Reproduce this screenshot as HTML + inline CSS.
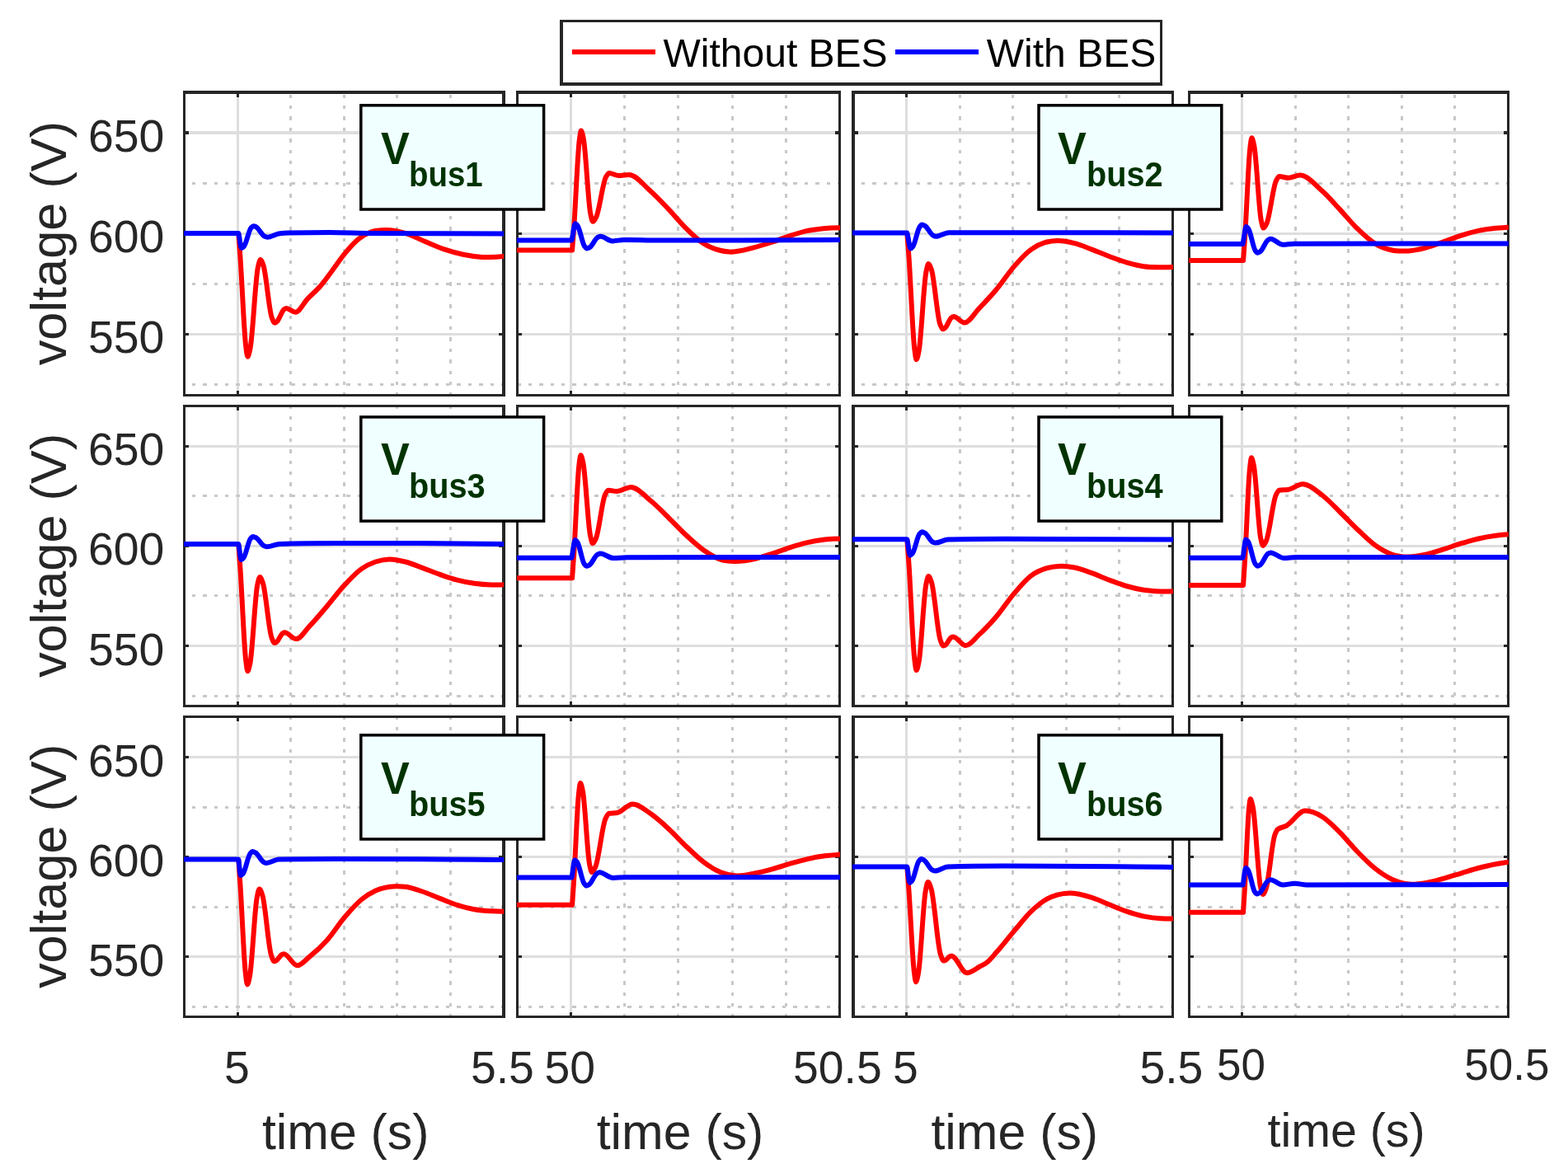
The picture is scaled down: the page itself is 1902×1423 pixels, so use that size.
<!DOCTYPE html>
<html lang="en"><head><meta charset="utf-8"><title>Bus voltages with and without BES</title>
<style>html,body{margin:0;padding:0;background:#fff;}svg{display:block;}text{font-family:"Liberation Sans", sans-serif;fill:#262626;}.tk{font-size:55px;}.lb{font-size:61.3px;}.lg{font-size:48px;fill:#000;}.an{font-weight:bold;fill:#003300;}</style></head><body>
<svg width="1902" height="1423" viewBox="0 0 1902 1423">
<rect width="1902" height="1423" fill="#fff"/>
<defs>
<clipPath id="c00"><rect x="223" y="111" width="388" height="369"/></clipPath>
<clipPath id="c01"><rect x="627" y="111" width="392" height="369"/></clipPath>
<clipPath id="c02"><rect x="1034" y="111" width="389" height="369"/></clipPath>
<clipPath id="c03"><rect x="1442" y="111" width="388" height="369"/></clipPath>
<clipPath id="c10"><rect x="223" y="492" width="388" height="365"/></clipPath>
<clipPath id="c11"><rect x="627" y="492" width="392" height="365"/></clipPath>
<clipPath id="c12"><rect x="1034" y="492" width="389" height="365"/></clipPath>
<clipPath id="c13"><rect x="1442" y="492" width="388" height="365"/></clipPath>
<clipPath id="c20"><rect x="223" y="869" width="388" height="365"/></clipPath>
<clipPath id="c21"><rect x="627" y="869" width="392" height="365"/></clipPath>
<clipPath id="c22"><rect x="1034" y="869" width="389" height="365"/></clipPath>
<clipPath id="c23"><rect x="1442" y="869" width="388" height="365"/></clipPath>
</defs>
<g shape-rendering="crispEdges" fill="none">
<path d="M225 161H609" stroke="#dedede" stroke-width="4"/>
<path d="M225 283.5H609" stroke="#dedede" stroke-width="3"/>
<path d="M225 405.5H609" stroke="#dedede" stroke-width="3"/>
<path d="M288.5 114V478" stroke="#dedede" stroke-width="3"/>
<path d="M612.3 222.5H225M612.3 344.5H225M612.3 466.5H225" stroke="#c8c8c8" stroke-width="3" stroke-dasharray="4.4 9"/>
<path d="M352.5 480.7V114M417.5 480.7V114M481.5 480.7V114M546.5 480.7V114" stroke="#c8c8c8" stroke-width="3" stroke-dasharray="4.4 9"/>
<path d="M222 110H613V481H222ZM225 114V478H609V114Z" fill="#262626" fill-rule="evenodd"/>
<path d="M225 161h4M609 161h-4" stroke="#262626" stroke-width="4"/>
<path d="M225 283.5h4M609 283.5h-4" stroke="#262626" stroke-width="3"/>
<path d="M225 405.5h4M609 405.5h-4" stroke="#262626" stroke-width="3"/>
<path d="M288.5 114v4M288.5 478v-4" stroke="#262626" stroke-width="3"/>
</g><g>
<g clip-path="url(#c00)" fill="none" stroke-width="6" stroke-linejoin="round">
<path d="M289.3 283C290 292.5 290.8 302.2 291.5 312.9C293.7 345 296 402.6 298.2 420C298.9 425.8 299.7 432.7 300.4 432.7C301.4 432.7 302.5 427.4 303.5 422.7C306.6 408.6 309.7 339 312.8 324.9C313.8 320.2 314.9 314.9 315.9 314.9C317 314.9 318.2 318.4 319.3 321.4C322.8 330.6 326.2 376 329.7 385.2C330.8 388.2 332 391.7 333.1 391.7C334 391.7 335 390.9 335.9 390.2C338.7 388.1 341.6 377.6 344.4 375.5C345.3 374.8 346.3 374 347.2 374C350.9 374 354.7 378.7 358.4 378.7C363.3 378.7 368.3 367.6 373.2 362.4C378.4 357 383.5 353 388.7 347C393.4 341.6 398 334.9 402.7 328.7C407.6 322.2 412.5 314.7 417.4 308.7C423.2 301.6 428.9 294.9 434.7 290.2C439.7 286.2 444.7 283.4 449.7 281.5C455.9 279.2 462 279 468.2 279C476.3 279 484.4 280.8 492.5 283.2C500.2 285.5 508 289.8 515.7 293C523.4 296.2 531.1 299.7 538.8 302.3C546.5 304.9 554.2 307.1 561.9 308.7C569.6 310.3 577.4 311.5 585.1 311.9C587 312 589 312.1 590.9 312.1C597.8 312.2 604.6 311.8 611.5 311" stroke="#ff0000"/>
<path d="M222 283L289.3 283C289.6 284.1 289.8 285.3 290.1 286.6C290.8 290.5 291.6 297.4 292.3 299.5C292.6 300.2 292.8 301 293.1 301C294.1 301 295 299.8 296 298.7C298.8 295.5 301.7 279.7 304.5 276.5C305.5 275.4 306.4 274.2 307.4 274.2C308.5 274.2 309.6 274.8 310.7 275.3C314 277 317.4 284.9 320.7 286.6C321.8 287.1 322.9 287.7 324 287.7C329.2 287.7 334.3 283.7 339.5 283.2C343 282.9 346.5 282.7 350 282.6C366.7 282.2 383.3 282 400 282C416.7 282 433.3 282.9 450 283C503.8 283.3 557.7 283.4 611.5 283.4" stroke="#0000ff"/>
</g>
</g>
<g shape-rendering="crispEdges" fill="none">
<path d="M629 161H1017" stroke="#dedede" stroke-width="4"/>
<path d="M629 283.5H1017" stroke="#dedede" stroke-width="3"/>
<path d="M629 405.5H1017" stroke="#dedede" stroke-width="3"/>
<path d="M692.5 114V478" stroke="#dedede" stroke-width="3"/>
<path d="M1020.3 222.5H629M1020.3 344.5H629M1020.3 466.5H629" stroke="#c8c8c8" stroke-width="3" stroke-dasharray="4.4 9"/>
<path d="M757.5 480.7V114M822.5 480.7V114M888.5 480.7V114M953.5 480.7V114" stroke="#c8c8c8" stroke-width="3" stroke-dasharray="4.4 9"/>
<path d="M626 110H1020V481H626ZM629 114V478H1017V114Z" fill="#262626" fill-rule="evenodd"/>
<path d="M629 161h4M1017 161h-4" stroke="#262626" stroke-width="4"/>
<path d="M629 283.5h4M1017 283.5h-4" stroke="#262626" stroke-width="3"/>
<path d="M629 405.5h4M1017 405.5h-4" stroke="#262626" stroke-width="3"/>
<path d="M692.5 114v4M692.5 478v-4" stroke="#262626" stroke-width="3"/>
</g><g>
<g clip-path="url(#c01)" fill="none" stroke-width="6" stroke-linejoin="round">
<path d="M626 303.5L694.1 303.5C694.8 294.3 695.5 284.8 696.3 274.5C698.4 243.4 700.6 187.6 702.7 170.7C703.5 165.1 704.2 158.4 704.9 158.4C705.8 158.4 706.8 163.4 707.7 167.8C710.6 181 713.4 246.2 716.3 259.4C717.2 263.8 718.2 268.8 719.1 268.8C720.4 268.8 721.7 266.1 723 263.8C727 256.8 730.9 221.9 734.9 214.9C736.2 212.6 737.5 209.9 738.8 209.9C742.7 209.9 746.5 213.1 750.4 213.1C754.6 213.1 758.8 212 763 212C771.4 212 779.8 223.6 788.2 231C795.2 237.2 802.3 244.6 809.3 252C816.3 259.3 823.3 268.1 830.3 275.1C837.3 282.1 844.3 289.3 851.3 294C858.3 298.8 865.4 301.6 872.4 303.5C876.6 304.6 880.8 305.3 885 305.6C894.8 306.2 904.6 302.9 914.4 300.4C921.4 298.6 928.5 296.3 935.5 294C942.5 291.7 949.5 289 956.5 286.7C963.5 284.4 970.5 282 977.5 280.4C984.5 278.8 991.6 277.9 998.6 277.2C1005.4 276.5 1012.2 276.2 1019 276.2" stroke="#ff0000"/>
<path d="M626 291.5L693.5 291.5C693.8 290.2 694.1 288.9 694.4 287.5C695.2 283.1 696.1 275.4 696.9 273C697.2 272.2 697.5 271.3 697.8 271.3C698.7 271.3 699.7 272.7 700.6 273.9C703.4 277.5 706.3 295.2 709.1 298.8C710 300 711 301.4 711.9 301.4C713 301.4 714.1 300.7 715.2 300.2C718.5 298.4 721.7 289.7 725 287.9C726.1 287.4 727.2 286.7 728.3 286.7C733.2 286.7 738.1 292.4 743 292.4C747.6 292.4 752.1 290.9 756.7 290.9C771.1 290.9 785.6 291.5 800 291.5C833.3 291.5 866.7 291.5 900 291.5C939.7 291.5 979.3 291.2 1019 290.9" stroke="#0000ff"/>
</g>
</g>
<g shape-rendering="crispEdges" fill="none">
<path d="M1037 161H1421" stroke="#dedede" stroke-width="4"/>
<path d="M1037 283.5H1421" stroke="#dedede" stroke-width="3"/>
<path d="M1037 405.5H1421" stroke="#dedede" stroke-width="3"/>
<path d="M1099.5 114V478" stroke="#dedede" stroke-width="3"/>
<path d="M1424.3 222.5H1037M1424.3 344.5H1037M1424.3 466.5H1037" stroke="#c8c8c8" stroke-width="3" stroke-dasharray="4.4 9"/>
<path d="M1164.5 480.7V114M1228.5 480.7V114M1293.5 480.7V114M1357.5 480.7V114" stroke="#c8c8c8" stroke-width="3" stroke-dasharray="4.4 9"/>
<path d="M1033 110H1424V481H1033ZM1037 114V478H1421V114Z" fill="#262626" fill-rule="evenodd"/>
<path d="M1037 161h4M1421 161h-4" stroke="#262626" stroke-width="4"/>
<path d="M1037 283.5h4M1421 283.5h-4" stroke="#262626" stroke-width="3"/>
<path d="M1037 405.5h4M1421 405.5h-4" stroke="#262626" stroke-width="3"/>
<path d="M1099.5 114v4M1099.5 478v-4" stroke="#262626" stroke-width="3"/>
</g><g>
<g clip-path="url(#c02)" fill="none" stroke-width="6" stroke-linejoin="round">
<path d="M1100.3 282.6C1101.1 292.4 1101.8 302.4 1102.6 313.3C1104.8 346.3 1107.1 405.4 1109.3 423.2C1110.1 429.2 1110.8 436.3 1111.6 436.3C1112.6 436.3 1113.6 431.1 1114.5 426.4C1117.5 412.5 1120.4 343.9 1123.4 330C1124.3 325.3 1125.3 320.1 1126.3 320.1C1127.5 320.1 1128.6 323.7 1129.8 326.8C1133.2 336.3 1136.7 383.1 1140.1 392.6C1141.3 395.7 1142.4 399.3 1143.6 399.3C1144.5 399.3 1145.4 398.6 1146.2 398C1148.9 396.2 1151.5 387.1 1154.2 385.3C1155 384.7 1155.9 384 1156.8 384C1161.2 384 1165.5 391.5 1169.9 391.5C1175.8 391.5 1181.8 380.2 1187.7 374.1C1194.7 366.8 1201.8 359.4 1208.8 351C1215.8 342.6 1222.8 331.7 1229.8 323.6C1236.8 315.5 1243.8 307.7 1250.8 302.6C1256.4 298.6 1262 295.9 1267.6 294.2C1272.5 292.7 1277.5 292.2 1282.4 292.1C1289.4 291.9 1296.4 293.4 1303.4 295.2C1310.4 296.9 1317.4 300 1324.4 302.6C1331.4 305.2 1338.5 308.4 1345.5 311C1352.5 313.6 1359.5 316.3 1366.5 318.3C1373.5 320.3 1380.5 322.2 1387.5 323.2C1394.5 324.2 1401.5 324.1 1408.5 324.2C1413.3 324.3 1418.2 324.2 1423 324" stroke="#ff0000"/>
<path d="M1033 282.6L1100.3 282.6C1100.6 283.8 1100.9 285 1101.2 286.4C1102.1 290.4 1102.9 297.7 1103.8 299.9C1104.1 300.6 1104.4 301.5 1104.7 301.5C1105.6 301.5 1106.5 300.2 1107.4 299C1110.1 295.6 1112.9 278.5 1115.6 275.1C1116.5 273.9 1117.4 272.6 1118.3 272.6C1119.4 272.6 1120.6 273.2 1121.7 273.8C1125.1 275.5 1128.4 283.9 1131.8 285.6C1132.9 286.2 1134.1 286.8 1135.2 286.8C1140.5 286.8 1145.7 282.2 1151 282.2C1184 282.2 1217 282.2 1250 282.2C1307.7 282.2 1365.3 282.4 1423 282.6" stroke="#0000ff"/>
</g>
</g>
<g shape-rendering="crispEdges" fill="none">
<path d="M1444 161H1828" stroke="#dedede" stroke-width="4"/>
<path d="M1444 283.5H1828" stroke="#dedede" stroke-width="3"/>
<path d="M1444 405.5H1828" stroke="#dedede" stroke-width="3"/>
<path d="M1506.5 114V478" stroke="#dedede" stroke-width="3"/>
<path d="M1831.3 222.5H1444M1831.3 344.5H1444M1831.3 466.5H1444" stroke="#c8c8c8" stroke-width="3" stroke-dasharray="4.4 9"/>
<path d="M1571.5 480.7V114M1635.5 480.7V114M1700.5 480.7V114M1764.5 480.7V114" stroke="#c8c8c8" stroke-width="3" stroke-dasharray="4.4 9"/>
<path d="M1441 110H1831V481H1441ZM1444 114V478H1828V114Z" fill="#262626" fill-rule="evenodd"/>
<path d="M1444 161h4M1828 161h-4" stroke="#262626" stroke-width="4"/>
<path d="M1444 283.5h4M1828 283.5h-4" stroke="#262626" stroke-width="3"/>
<path d="M1444 405.5h4M1828 405.5h-4" stroke="#262626" stroke-width="3"/>
<path d="M1506.5 114v4M1506.5 478v-4" stroke="#262626" stroke-width="3"/>
</g><g>
<g clip-path="url(#c03)" fill="none" stroke-width="6" stroke-linejoin="round">
<path d="M1441 316.1L1508.1 316.1C1508.8 306.6 1509.5 297 1510.2 286.3C1512.2 254.4 1514.3 197.1 1516.3 179.9C1517 174.1 1517.7 167.2 1518.4 167.2C1519.3 167.2 1520.3 172.1 1521.2 176.5C1524.1 189.6 1526.9 254.2 1529.8 267.3C1530.7 271.7 1531.7 276.6 1532.6 276.6C1533.9 276.6 1535.1 273.8 1536.4 271.3C1540.2 263.8 1544.1 226.9 1547.9 219.4C1549.2 216.9 1550.4 214.1 1551.7 214.1C1555.5 214.1 1559.4 215.8 1563.2 215.8C1567.8 215.8 1572.3 212.6 1576.9 212.6C1586 212.6 1595.1 223.8 1604.2 232C1611.2 238.3 1618.3 246.5 1625.3 254.1C1632.3 261.6 1639.3 270.4 1646.3 277.2C1653.3 284 1660.3 290.7 1667.3 295.1C1674.3 299.5 1681.4 302.1 1688.4 303.5C1692.6 304.4 1696.8 304.5 1701 304.6C1710.8 304.8 1720.6 302.9 1730.4 300.3C1737.4 298.5 1744.5 295.5 1751.5 293C1758.5 290.6 1765.5 287.8 1772.5 285.6C1779.5 283.4 1786.5 281.4 1793.5 279.9C1800.5 278.4 1807.5 277.5 1814.5 276.8C1819.7 276.3 1824.8 275.9 1830 275.7" stroke="#ff0000"/>
<path d="M1441 296.1L1507.5 296.1C1507.8 294.8 1508.1 293.4 1508.3 291.9C1509.2 287.4 1510 279.3 1510.9 276.9C1511.1 276.1 1511.4 275.1 1511.7 275.1C1512.6 275.1 1513.5 276.5 1514.4 277.8C1517.2 281.6 1519.9 300.2 1522.7 304C1523.6 305.3 1524.5 306.7 1525.4 306.7C1526.5 306.7 1527.5 305.9 1528.6 305.3C1531.7 303.2 1534.9 293.3 1538 291.2C1539.1 290.6 1540.1 289.8 1541.2 289.8C1546.1 289.8 1551 296.8 1555.9 296.8C1560.6 296.8 1565.3 295.7 1570 295.7C1656.7 295.5 1743.3 295.5 1830 295.5" stroke="#0000ff"/>
</g>
</g>
<g shape-rendering="crispEdges" fill="none">
<path d="M225 541.5H609" stroke="#dedede" stroke-width="3"/>
<path d="M225 662.5H609" stroke="#dedede" stroke-width="3"/>
<path d="M225 783.5H609" stroke="#dedede" stroke-width="3"/>
<path d="M288.5 494V855" stroke="#dedede" stroke-width="3"/>
<path d="M612.3 601.5H225M612.3 722.5H225M612.3 844.5H225" stroke="#c8c8c8" stroke-width="3" stroke-dasharray="4.4 9"/>
<path d="M352.5 857.7V494M417.5 857.7V494M481.5 857.7V494M546.5 857.7V494" stroke="#c8c8c8" stroke-width="3" stroke-dasharray="4.4 9"/>
<path d="M222 491H613V858H222ZM225 494V855H609V494Z" fill="#262626" fill-rule="evenodd"/>
<path d="M225 541.5h4M609 541.5h-4" stroke="#262626" stroke-width="3"/>
<path d="M225 662.5h4M609 662.5h-4" stroke="#262626" stroke-width="3"/>
<path d="M225 783.5h4M609 783.5h-4" stroke="#262626" stroke-width="3"/>
<path d="M288.5 494v4M288.5 855v-4" stroke="#262626" stroke-width="3"/>
</g><g>
<g clip-path="url(#c10)" fill="none" stroke-width="6" stroke-linejoin="round">
<path d="M289.3 659.9C290 669.7 290.8 679.7 291.5 690.8C293.7 723.8 296 783.2 298.2 801.1C298.9 807.1 299.7 814.2 300.4 814.2C301.4 814.2 302.4 809 303.4 804.5C306.3 790.9 309.3 723.4 312.2 709.8C313.2 705.3 314.2 700.1 315.2 700.1C316.4 700.1 317.6 703.7 318.8 706.9C322.3 716.4 325.9 763.7 329.4 773.2C330.6 776.4 331.8 780 333 780C333.8 780 334.6 779.4 335.4 778.9C337.9 777.4 340.3 769.9 342.8 768.4C343.6 767.9 344.4 767.3 345.2 767.3C349.9 767.3 354.6 775.1 359.3 775.1C364.8 775.1 370.2 765 375.7 759.3C382.7 752 389.8 743.5 396.8 735.2C403.8 727 410.8 717.4 417.8 709.9C424.8 702.4 431.8 694.8 438.8 689.9C444.4 686 450 683.4 455.6 681.5C461.2 679.6 466.9 678.5 472.5 678.4C478.8 678.3 485.1 679.9 491.4 681.5C498.4 683.3 505.4 686.3 512.4 688.9C519.4 691.5 526.5 694.4 533.5 696.9C540.5 699.3 547.5 701.8 554.5 703.6C561.5 705.4 568.5 706.8 575.5 707.8C582.5 708.8 589.5 709.3 596.5 709.5C601.5 709.6 606.5 709.6 611.5 709.3" stroke="#ff0000"/>
<path d="M222 659.9L289.3 659.9C289.5 661.1 289.8 662.4 290 663.7C290.7 667.8 291.3 675.2 292 677.4C292.2 678.1 292.5 679 292.7 679C293.6 679 294.6 677.7 295.5 676.6C298.3 673.3 301.1 656.7 303.9 653.4C304.8 652.3 305.8 651 306.7 651C307.8 651 309 651.6 310.1 652C313.5 653.5 317 660.7 320.4 662.2C321.5 662.6 322.7 663.2 323.8 663.2C328.8 663.2 333.9 660.1 338.9 659.9C361.6 659.2 384.3 659 407 659C475.2 659 543.3 659 611.5 659.9" stroke="#0000ff"/>
</g>
</g>
<g shape-rendering="crispEdges" fill="none">
<path d="M629 541.5H1017" stroke="#dedede" stroke-width="3"/>
<path d="M629 662.5H1017" stroke="#dedede" stroke-width="3"/>
<path d="M629 783.5H1017" stroke="#dedede" stroke-width="3"/>
<path d="M692.5 494V855" stroke="#dedede" stroke-width="3"/>
<path d="M1020.3 601.5H629M1020.3 722.5H629M1020.3 844.5H629" stroke="#c8c8c8" stroke-width="3" stroke-dasharray="4.4 9"/>
<path d="M757.5 857.7V494M822.5 857.7V494M888.5 857.7V494M953.5 857.7V494" stroke="#c8c8c8" stroke-width="3" stroke-dasharray="4.4 9"/>
<path d="M626 491H1020V858H626ZM629 494V855H1017V494Z" fill="#262626" fill-rule="evenodd"/>
<path d="M629 541.5h4M1017 541.5h-4" stroke="#262626" stroke-width="3"/>
<path d="M629 662.5h4M1017 662.5h-4" stroke="#262626" stroke-width="3"/>
<path d="M629 783.5h4M1017 783.5h-4" stroke="#262626" stroke-width="3"/>
<path d="M692.5 494v4M692.5 855v-4" stroke="#262626" stroke-width="3"/>
</g><g>
<g clip-path="url(#c11)" fill="none" stroke-width="6" stroke-linejoin="round">
<path d="M626 701.3L694.1 701.3C694.8 691.8 695.5 682.1 696.2 671.5C698.2 639.5 700.3 582.2 702.3 564.9C703 559.1 703.7 552.2 704.4 552.2C705.4 552.2 706.3 557 707.3 561.3C710.2 574.1 713.2 637.3 716.1 650.1C717.1 654.4 718 659.2 719 659.2C720.2 659.2 721.5 656.3 722.7 653.7C726.5 646 730.2 607.9 734 600.2C735.2 597.6 736.5 594.7 737.7 594.7C741.2 594.7 744.7 596.1 748.2 596.1C753.8 596.1 759.4 591.1 765 591.1C773.4 591.1 781.8 601.4 790.2 608.3C797.2 614.1 804.3 621.4 811.3 628.3C818.3 635.1 825.3 642.8 832.3 649.3C839.3 655.8 846.3 662.3 853.3 667.2C860.3 672.1 867.4 676.6 874.4 678.8C880 680.6 885.6 680.8 891.2 680.9C899.6 681.1 908 679.6 916.4 677.7C923.4 676.2 930.5 673.7 937.5 671.4C944.5 669.1 951.5 666.3 958.5 664.1C965.5 661.9 972.5 659.8 979.5 658.2C986.5 656.6 993.5 655.4 1000.5 654.6C1006.7 653.9 1012.8 653.5 1019 653.5" stroke="#ff0000"/>
<path d="M626 676.7L693.5 676.7C693.8 675.3 694.1 673.9 694.3 672.4C695.2 667.8 696 659.5 696.9 657C697.1 656.2 697.4 655.2 697.7 655.2C698.6 655.2 699.5 656.6 700.4 657.9C703.2 661.7 705.9 680.3 708.7 684.1C709.6 685.4 710.5 686.8 711.4 686.8C712.5 686.8 713.6 686.1 714.8 685.5C718.1 683.7 721.5 674.5 724.8 672.7C726 672.1 727.1 671.4 728.2 671.4C733.5 671.4 738.7 677.1 744 677.1C749.3 677.1 754.7 676.3 760 676.3C846.3 676 932.7 676 1019 676" stroke="#0000ff"/>
</g>
</g>
<g shape-rendering="crispEdges" fill="none">
<path d="M1037 541.5H1421" stroke="#dedede" stroke-width="3"/>
<path d="M1037 662.5H1421" stroke="#dedede" stroke-width="3"/>
<path d="M1037 783.5H1421" stroke="#dedede" stroke-width="3"/>
<path d="M1099.5 494V855" stroke="#dedede" stroke-width="3"/>
<path d="M1424.3 601.5H1037M1424.3 722.5H1037M1424.3 844.5H1037" stroke="#c8c8c8" stroke-width="3" stroke-dasharray="4.4 9"/>
<path d="M1164.5 857.7V494M1228.5 857.7V494M1293.5 857.7V494M1357.5 857.7V494" stroke="#c8c8c8" stroke-width="3" stroke-dasharray="4.4 9"/>
<path d="M1033 491H1424V858H1033ZM1037 494V855H1421V494Z" fill="#262626" fill-rule="evenodd"/>
<path d="M1037 541.5h4M1421 541.5h-4" stroke="#262626" stroke-width="3"/>
<path d="M1037 662.5h4M1421 662.5h-4" stroke="#262626" stroke-width="3"/>
<path d="M1037 783.5h4M1421 783.5h-4" stroke="#262626" stroke-width="3"/>
<path d="M1099.5 494v4M1099.5 855v-4" stroke="#262626" stroke-width="3"/>
</g><g>
<g clip-path="url(#c12)" fill="none" stroke-width="6" stroke-linejoin="round">
<path d="M1100.3 654.2C1101.1 664.3 1101.8 674.6 1102.6 686C1104.8 720 1107.1 781.1 1109.3 799.6C1110.1 805.7 1110.8 813.1 1111.6 813.1C1112.6 813.1 1113.6 807.9 1114.5 803.4C1117.5 789.8 1120.4 722.3 1123.4 708.7C1124.3 704.2 1125.3 699 1126.3 699C1127.5 699 1128.7 702.8 1129.9 706.2C1133.5 716.3 1137 766.2 1140.6 776.3C1141.8 779.7 1143 783.5 1144.2 783.5C1145 783.5 1145.8 783 1146.6 782.6C1149 781.2 1151.4 774.7 1153.8 773.3C1154.6 772.9 1155.4 772.4 1156.2 772.4C1161.2 772.4 1166.3 783.1 1171.3 783.1C1176.8 783.1 1182.2 774.9 1187.7 769.9C1194.7 763.5 1201.8 756.1 1208.8 747.8C1215.8 739.6 1222.8 728.6 1229.8 720.4C1236.8 712.1 1243.8 703.5 1250.8 698.3C1256.4 694.1 1262 691.8 1267.6 689.9C1274.3 687.6 1280.9 686.9 1287.6 686.8C1292.9 686.8 1298.1 687.5 1303.4 688.5C1310.4 689.9 1317.4 692.7 1324.4 695.2C1331.4 697.7 1338.5 701 1345.5 703.6C1352.5 706.2 1359.5 709 1366.5 711C1373.5 713 1380.5 714.7 1387.5 715.8C1394.5 716.9 1401.5 717.3 1408.5 717.5C1413.3 717.6 1418.2 717.6 1423 717.3" stroke="#ff0000"/>
<path d="M1033 654.2L1100.3 654.2C1100.5 655.4 1100.8 656.7 1101 658.1C1101.8 662.3 1102.5 669.8 1103.3 672C1103.5 672.8 1103.8 673.7 1104 673.7C1105 673.7 1105.9 672.4 1106.9 671.3C1109.7 667.9 1112.6 651.1 1115.4 647.7C1116.4 646.6 1117.3 645.3 1118.3 645.3C1119.4 645.3 1120.5 645.9 1121.6 646.4C1124.9 648 1128.1 655.9 1131.4 657.5C1132.5 658 1133.6 658.6 1134.7 658.6C1139.8 658.6 1144.8 654.7 1149.9 654.6C1172.9 654 1196 653.8 1219 653.8C1287 653.8 1355 653.8 1423 654.6" stroke="#0000ff"/>
</g>
</g>
<g shape-rendering="crispEdges" fill="none">
<path d="M1444 541.5H1828" stroke="#dedede" stroke-width="3"/>
<path d="M1444 662.5H1828" stroke="#dedede" stroke-width="3"/>
<path d="M1444 783.5H1828" stroke="#dedede" stroke-width="3"/>
<path d="M1506.5 494V855" stroke="#dedede" stroke-width="3"/>
<path d="M1831.3 601.5H1444M1831.3 722.5H1444M1831.3 844.5H1444" stroke="#c8c8c8" stroke-width="3" stroke-dasharray="4.4 9"/>
<path d="M1571.5 857.7V494M1635.5 857.7V494M1700.5 857.7V494M1764.5 857.7V494" stroke="#c8c8c8" stroke-width="3" stroke-dasharray="4.4 9"/>
<path d="M1441 491H1831V858H1441ZM1444 494V855H1828V494Z" fill="#262626" fill-rule="evenodd"/>
<path d="M1444 541.5h4M1828 541.5h-4" stroke="#262626" stroke-width="3"/>
<path d="M1444 662.5h4M1828 662.5h-4" stroke="#262626" stroke-width="3"/>
<path d="M1444 783.5h4M1828 783.5h-4" stroke="#262626" stroke-width="3"/>
<path d="M1506.5 494v4M1506.5 855v-4" stroke="#262626" stroke-width="3"/>
</g><g>
<g clip-path="url(#c13)" fill="none" stroke-width="6" stroke-linejoin="round">
<path d="M1441 709.9L1508.1 709.9C1508.8 700.1 1509.4 690 1510.1 679C1512.1 645.8 1514 586.4 1516 568.4C1516.7 562.5 1517.3 555.3 1518 555.3C1518.9 555.3 1519.9 560.1 1520.8 564.4C1523.6 577.1 1526.4 640.1 1529.2 652.8C1530.1 657.1 1531.1 661.9 1532 661.9C1533.3 661.9 1534.6 658.9 1535.9 656.2C1539.9 648.2 1543.8 608.4 1547.8 600.4C1549.1 597.7 1550.4 594.9 1551.7 594.7C1555.2 594.2 1558.7 594.4 1562.2 594C1568.2 593.4 1574.1 587.3 1580.1 587.3C1588.1 587.3 1596.2 594.8 1604.2 601C1611.2 606.4 1618.3 614.1 1625.3 621C1632.3 627.8 1639.3 635.4 1646.3 642C1653.3 648.6 1660.3 655.8 1667.3 660.9C1674.3 666 1681.4 670.1 1688.4 672.5C1694.7 674.7 1701 675.4 1707.3 675.6C1715 675.8 1722.7 674.2 1730.4 672.5C1737.4 671 1744.5 668.4 1751.5 666.2C1758.5 664 1765.5 661.3 1772.5 659.2C1779.5 657.1 1786.5 655.1 1793.5 653.5C1800.5 651.9 1807.5 650.7 1814.5 649.8C1819.7 649.1 1824.8 648.6 1830 648.3" stroke="#ff0000"/>
<path d="M1441 676.7L1507.5 676.7C1507.8 675.3 1508 673.9 1508.3 672.3C1509 667.5 1509.8 659 1510.5 656.5C1510.8 655.6 1511 654.6 1511.3 654.6C1512.2 654.6 1513.2 656.1 1514.1 657.3C1516.9 661.2 1519.8 680.2 1522.6 684.1C1523.5 685.3 1524.5 686.8 1525.4 686.8C1526.5 686.8 1527.5 686.1 1528.6 685.4C1531.7 683.4 1534.9 673.8 1538 671.8C1539.1 671.1 1540.1 670.4 1541.2 670.4C1546.7 670.4 1552.1 677.1 1557.6 677.1C1562.4 677.1 1567.2 676 1572 676C1658 676 1744 676 1830 676" stroke="#0000ff"/>
</g>
</g>
<g shape-rendering="crispEdges" fill="none">
<path d="M225 918.5H609" stroke="#dedede" stroke-width="3"/>
<path d="M225 1039.5H609" stroke="#dedede" stroke-width="3"/>
<path d="M225 1160.5H609" stroke="#dedede" stroke-width="3"/>
<path d="M288.5 871V1232" stroke="#dedede" stroke-width="3"/>
<path d="M612.3 979.5H225M612.3 1100.5H225M612.3 1221.5H225" stroke="#c8c8c8" stroke-width="3" stroke-dasharray="4.4 9"/>
<path d="M352.5 1234.7V871M417.5 1234.7V871M481.5 1234.7V871M546.5 1234.7V871" stroke="#c8c8c8" stroke-width="3" stroke-dasharray="4.4 9"/>
<path d="M222 868H613V1235H222ZM225 871V1232H609V871Z" fill="#262626" fill-rule="evenodd"/>
<path d="M225 918.5h4M609 918.5h-4" stroke="#262626" stroke-width="3"/>
<path d="M225 1039.5h4M609 1039.5h-4" stroke="#262626" stroke-width="3"/>
<path d="M225 1160.5h4M609 1160.5h-4" stroke="#262626" stroke-width="3"/>
<path d="M288.5 871v4M288.5 1232v-4" stroke="#262626" stroke-width="3"/>
</g><g>
<g clip-path="url(#c20)" fill="none" stroke-width="6" stroke-linejoin="round">
<path d="M289.3 1042.6C290 1052.2 290.7 1062.1 291.4 1073C293.6 1105.5 295.7 1163.9 297.9 1181.5C298.6 1187.4 299.3 1194.4 300 1194.4C301 1194.4 302 1189.2 302.9 1184.5C305.9 1170.7 308.8 1102.1 311.8 1088.3C312.7 1083.6 313.7 1078.4 314.7 1078.4C315.9 1078.4 317.1 1082.4 318.3 1085.9C321.9 1096.4 325.4 1148.3 329 1158.8C330.2 1162.3 331.4 1166.3 332.6 1166.3C333.4 1166.3 334.1 1165.9 334.9 1165.5C337.2 1164.4 339.6 1159.1 341.9 1158C342.7 1157.6 343.4 1157.2 344.2 1157.2C349.7 1157.2 355.1 1171.3 360.6 1171.3C365.6 1171.3 370.7 1164.5 375.7 1160.4C382.7 1154.7 389.8 1148.3 396.8 1140.4C403.8 1132.5 410.8 1121.2 417.8 1113C424.8 1104.8 431.8 1096.7 438.8 1091C444.4 1086.4 450 1083.1 455.6 1080.5C463.7 1076.8 471.7 1075.5 479.8 1075.2C483.7 1075.1 487.5 1075.3 491.4 1075.8C498.4 1076.7 505.4 1079.2 512.4 1081.5C519.4 1083.9 526.5 1087.2 533.5 1089.9C540.5 1092.6 547.5 1095.7 554.5 1097.9C561.5 1100.1 568.5 1102 575.5 1103.2C582.5 1104.4 589.5 1104.9 596.5 1105.3C601.5 1105.6 606.5 1105.7 611.5 1105.7" stroke="#ff0000"/>
<path d="M222 1042.6L289.3 1042.6C289.5 1043.8 289.7 1045.1 289.8 1046.5C290.4 1050.7 290.9 1058.2 291.5 1060.4C291.6 1061.2 291.8 1062.1 292 1062.1C293 1062.1 293.9 1060.8 294.9 1059.6C297.7 1056.2 300.6 1039 303.4 1035.6C304.4 1034.4 305.3 1033.1 306.3 1033.1C307.4 1033.1 308.6 1033.7 309.7 1034.3C313.1 1035.9 316.4 1044.2 319.8 1045.8C320.9 1046.4 322.1 1047 323.2 1047C328.1 1047 333.1 1042.7 338 1042.6C361 1042.1 384 1042 407 1042C475.2 1042 543.3 1042 611.5 1043" stroke="#0000ff"/>
</g>
</g>
<g shape-rendering="crispEdges" fill="none">
<path d="M629 918.5H1017" stroke="#dedede" stroke-width="3"/>
<path d="M629 1039.5H1017" stroke="#dedede" stroke-width="3"/>
<path d="M629 1160.5H1017" stroke="#dedede" stroke-width="3"/>
<path d="M692.5 871V1232" stroke="#dedede" stroke-width="3"/>
<path d="M1020.3 979.5H629M1020.3 1100.5H629M1020.3 1221.5H629" stroke="#c8c8c8" stroke-width="3" stroke-dasharray="4.4 9"/>
<path d="M757.5 1234.7V871M822.5 1234.7V871M888.5 1234.7V871M953.5 1234.7V871" stroke="#c8c8c8" stroke-width="3" stroke-dasharray="4.4 9"/>
<path d="M626 868H1020V1235H626ZM629 871V1232H1017V871Z" fill="#262626" fill-rule="evenodd"/>
<path d="M629 918.5h4M1017 918.5h-4" stroke="#262626" stroke-width="3"/>
<path d="M629 1039.5h4M1017 1039.5h-4" stroke="#262626" stroke-width="3"/>
<path d="M629 1160.5h4M1017 1160.5h-4" stroke="#262626" stroke-width="3"/>
<path d="M692.5 871v4M692.5 1232v-4" stroke="#262626" stroke-width="3"/>
</g><g>
<g clip-path="url(#c21)" fill="none" stroke-width="6" stroke-linejoin="round">
<path d="M626 1097.8L694.1 1097.8C694.8 1088.4 695.4 1078.8 696.1 1068.2C698.1 1036.6 700 979.7 702 962.6C702.7 956.8 703.3 950 704 950C704.9 950 705.9 954.9 706.8 959.2C709.6 972.1 712.4 1036.1 715.2 1049C716.1 1053.3 717.1 1058.2 718 1058.2C719.4 1058.2 720.8 1055 722.1 1052.1C726.3 1043.6 730.4 1001.4 734.6 992.9C735.9 990 737.3 987 738.7 986.8C741.9 986.3 745 986.5 748.2 986.1C754.5 985.3 760.8 975.6 767.1 975.6C774.8 975.6 782.5 982.4 790.2 987.8C797.2 992.7 804.3 999.2 811.3 1005.7C818.3 1012.2 825.3 1020.1 832.3 1026.7C839.3 1033.3 846.3 1040.3 853.3 1045.6C860.3 1050.9 867.4 1055.5 874.4 1058.3C880.7 1060.8 887 1062.1 893.3 1062.5C901 1063 908.7 1060.8 916.4 1059.3C923.4 1057.9 930.5 1056 937.5 1054.1C944.5 1052.2 951.5 1049.7 958.5 1047.7C965.5 1045.7 972.5 1043.7 979.5 1042.1C986.5 1040.5 993.5 1039.2 1000.5 1038.3C1006.7 1037.5 1012.8 1036.9 1019 1036.6" stroke="#ff0000"/>
<path d="M626 1064.6L693.5 1064.6C693.8 1063.3 694 1061.9 694.3 1060.4C695 1055.9 695.8 1047.7 696.5 1045.3C696.8 1044.5 697 1043.5 697.3 1043.5C698.2 1043.5 699.2 1044.9 700.1 1046.1C702.9 1049.8 705.8 1068.2 708.6 1071.9C709.5 1073.1 710.5 1074.5 711.4 1074.5C712.5 1074.5 713.5 1073.8 714.6 1073.1C717.7 1071.2 720.9 1061.6 724 1059.7C725.1 1059 726.1 1058.3 727.2 1058.3C732.7 1058.3 738.1 1065 743.6 1065C748.4 1065 753.2 1064.2 758 1064.2C845 1064.2 932 1064.2 1019 1064.2" stroke="#0000ff"/>
</g>
</g>
<g shape-rendering="crispEdges" fill="none">
<path d="M1037 918.5H1421" stroke="#dedede" stroke-width="3"/>
<path d="M1037 1039.5H1421" stroke="#dedede" stroke-width="3"/>
<path d="M1037 1160.5H1421" stroke="#dedede" stroke-width="3"/>
<path d="M1099.5 871V1232" stroke="#dedede" stroke-width="3"/>
<path d="M1424.3 979.5H1037M1424.3 1100.5H1037M1424.3 1221.5H1037" stroke="#c8c8c8" stroke-width="3" stroke-dasharray="4.4 9"/>
<path d="M1164.5 1234.7V871M1228.5 1234.7V871M1293.5 1234.7V871M1357.5 1234.7V871" stroke="#c8c8c8" stroke-width="3" stroke-dasharray="4.4 9"/>
<path d="M1033 868H1424V1235H1033ZM1037 871V1232H1421V871Z" fill="#262626" fill-rule="evenodd"/>
<path d="M1037 918.5h4M1421 918.5h-4" stroke="#262626" stroke-width="3"/>
<path d="M1037 1039.5h4M1421 1039.5h-4" stroke="#262626" stroke-width="3"/>
<path d="M1037 1160.5h4M1421 1160.5h-4" stroke="#262626" stroke-width="3"/>
<path d="M1099.5 871v4M1099.5 1232v-4" stroke="#262626" stroke-width="3"/>
</g><g>
<g clip-path="url(#c22)" fill="none" stroke-width="6" stroke-linejoin="round">
<path d="M1100.3 1051.4C1101 1060.3 1101.7 1069.4 1102.4 1079.4C1104.6 1109.3 1106.7 1163.1 1108.9 1179.3C1109.6 1184.7 1110.3 1191.2 1111 1191.2C1112 1191.2 1113 1185.7 1113.9 1180.9C1116.9 1166.4 1119.8 1094.8 1122.8 1080.3C1123.7 1075.5 1124.7 1070 1125.7 1070C1127 1070 1128.2 1074.3 1129.5 1078.1C1133.3 1089.5 1137 1146.1 1140.8 1157.5C1142.1 1161.3 1143.3 1165.6 1144.6 1165.6C1145.2 1165.6 1145.9 1165.3 1146.5 1165.1C1148.4 1164.4 1150.3 1160.9 1152.2 1160.2C1152.8 1160 1153.5 1159.7 1154.1 1159.7C1160.4 1159.7 1166.7 1180.3 1173 1180.3C1177.9 1180.3 1182.8 1175.7 1187.7 1173C1191.2 1171.1 1194.7 1169.7 1198.2 1166.7C1201.7 1163.7 1205.3 1159.1 1208.8 1155.1C1215.8 1147.2 1222.8 1138.1 1229.8 1129.9C1236.8 1121.7 1243.8 1112.5 1250.8 1105.7C1256.4 1100.3 1262 1095.4 1267.6 1092C1272.5 1089 1277.5 1087.1 1282.4 1085.7C1287.3 1084.3 1292.2 1083.7 1297.1 1083.6C1306.2 1083.4 1315.3 1086.1 1324.4 1088.9C1331.4 1091.1 1338.5 1094.5 1345.5 1097.3C1352.5 1100.1 1359.5 1103.3 1366.5 1105.7C1373.5 1108.1 1380.5 1110.2 1387.5 1111.6C1394.5 1113 1401.5 1113.9 1408.5 1114.3C1413.3 1114.6 1418.2 1114.7 1423 1114.5" stroke="#ff0000"/>
<path d="M1033 1051.4L1100.3 1051.4C1100.5 1052.6 1100.7 1053.9 1101 1055.3C1101.6 1059.5 1102.3 1067 1102.9 1069.2C1103.2 1070 1103.4 1070.9 1103.6 1070.9C1104.5 1070.9 1105.4 1069.6 1106.3 1068.5C1109.1 1065 1111.8 1048 1114.6 1044.5C1115.5 1043.4 1116.4 1042.1 1117.3 1042.1C1118.4 1042.1 1119.5 1042.8 1120.7 1043.3C1124 1045 1127.4 1053.6 1130.7 1055.3C1131.9 1055.8 1133 1056.5 1134.1 1056.5C1139.4 1056.5 1144.6 1051.5 1149.9 1051.4C1172.9 1050.8 1196 1050.6 1219 1050.6C1287 1050.6 1355 1050.6 1423 1052" stroke="#0000ff"/>
</g>
</g>
<g shape-rendering="crispEdges" fill="none">
<path d="M1444 918.5H1828" stroke="#dedede" stroke-width="3"/>
<path d="M1444 1039.5H1828" stroke="#dedede" stroke-width="3"/>
<path d="M1444 1160.5H1828" stroke="#dedede" stroke-width="3"/>
<path d="M1506.5 871V1232" stroke="#dedede" stroke-width="3"/>
<path d="M1831.3 979.5H1444M1831.3 1100.5H1444M1831.3 1221.5H1444" stroke="#c8c8c8" stroke-width="3" stroke-dasharray="4.4 9"/>
<path d="M1571.5 1234.7V871M1635.5 1234.7V871M1700.5 1234.7V871M1764.5 1234.7V871" stroke="#c8c8c8" stroke-width="3" stroke-dasharray="4.4 9"/>
<path d="M1441 868H1831V1235H1441ZM1444 871V1232H1828V871Z" fill="#262626" fill-rule="evenodd"/>
<path d="M1444 918.5h4M1828 918.5h-4" stroke="#262626" stroke-width="3"/>
<path d="M1444 1039.5h4M1828 1039.5h-4" stroke="#262626" stroke-width="3"/>
<path d="M1444 1160.5h4M1828 1160.5h-4" stroke="#262626" stroke-width="3"/>
<path d="M1506.5 871v4M1506.5 1232v-4" stroke="#262626" stroke-width="3"/>
</g><g>
<g clip-path="url(#c23)" fill="none" stroke-width="6" stroke-linejoin="round">
<path d="M1441 1106.7L1508.1 1106.7C1508.7 1098 1509.2 1089 1509.8 1079.2C1511.5 1049.8 1513.3 996.9 1515 981C1515.6 975.7 1516.1 969.3 1516.7 969.3C1517.7 969.3 1518.7 974.5 1519.8 979.1C1522.8 993 1525.9 1061.3 1528.9 1075.2C1530 1079.8 1531 1085 1532 1085C1533.2 1085 1534.4 1081.4 1535.6 1078.3C1539.2 1068.8 1542.8 1022.2 1546.4 1012.7C1547.6 1009.6 1548.8 1006.9 1550 1006C1553.3 1003.6 1556.7 1003.7 1560 1002C1567.7 998.1 1575.5 983.6 1583.2 983.6C1590.2 983.6 1597.2 986.6 1604.2 991C1611.2 995.4 1618.3 1002.9 1625.3 1009.9C1632.3 1016.9 1639.3 1025.8 1646.3 1033C1653.3 1040.2 1660.3 1047.4 1667.3 1053C1674.3 1058.6 1681.4 1063.4 1688.4 1066.7C1695.4 1070 1702.4 1071.9 1709.4 1072.6C1716.4 1073.3 1723.4 1072.1 1730.4 1070.9C1737.4 1069.7 1744.5 1067.5 1751.5 1065.6C1758.5 1063.7 1765.5 1061.4 1772.5 1059.3C1779.5 1057.2 1786.5 1054.8 1793.5 1053C1800.5 1051.2 1807.5 1049.5 1814.5 1048.2C1819.7 1047.2 1824.8 1046.4 1830 1045.7" stroke="#ff0000"/>
<path d="M1441 1073.6L1507.5 1073.6C1507.8 1072.3 1508 1071 1508.3 1069.5C1509 1065.1 1509.8 1057.1 1510.5 1054.8C1510.8 1054 1511 1053 1511.3 1053C1512.2 1053 1513.1 1054.4 1514 1055.7C1516.7 1059.5 1519.3 1078.1 1522 1081.9C1522.9 1083.2 1523.8 1084.6 1524.7 1084.6C1525.8 1084.6 1526.9 1083.8 1528 1083.1C1531.3 1081.1 1534.6 1070.8 1537.9 1068.8C1539 1068.1 1540.1 1067.3 1541.2 1067.3C1546.1 1067.3 1551 1073.4 1555.9 1073.4C1560.8 1073.4 1565.7 1071.8 1570.6 1071.8C1575.4 1071.8 1580.2 1073.4 1585 1073.4C1666.7 1073.4 1748.3 1073.4 1830 1073" stroke="#0000ff"/>
</g>
</g>
<text class="tk" x="199.4" y="184.1" text-anchor="end" style="font-size:55.4px">650</text>
<text class="tk" x="199.4" y="306.2" text-anchor="end" style="font-size:55.4px">600</text>
<text class="tk" x="199.4" y="428.4" text-anchor="end" style="font-size:55.4px">550</text>
<text class="lb" transform="translate(79.5,295.1) rotate(-90)" text-anchor="middle">voltage (V)</text>
<text class="tk" x="199.4" y="564.2" text-anchor="end" style="font-size:55.4px">650</text>
<text class="tk" x="199.4" y="685.4" text-anchor="end" style="font-size:55.4px">600</text>
<text class="tk" x="199.4" y="806.6" text-anchor="end" style="font-size:55.4px">550</text>
<text class="lb" transform="translate(79.5,673.9) rotate(-90)" text-anchor="middle">voltage (V)</text>
<text class="tk" x="199.4" y="941.5" text-anchor="end" style="font-size:55.4px">650</text>
<text class="tk" x="199.4" y="1062.7" text-anchor="end" style="font-size:55.4px">600</text>
<text class="tk" x="199.4" y="1183.9" text-anchor="end" style="font-size:55.4px">550</text>
<text class="lb" transform="translate(79.5,1050.9) rotate(-90)" text-anchor="middle">voltage (V)</text>
<text x="287.5" y="1314" text-anchor="middle" style="font-size:55.3px">5</text>
<text x="609.4" y="1314" text-anchor="middle" style="font-size:55.3px">5.5</text>
<text x="419.2" y="1394.4" text-anchor="middle" style="font-size:60.8px">time (s)</text>
<text x="691.3" y="1314" text-anchor="middle" style="font-size:55.3px">50</text>
<text x="1015.9" y="1314" text-anchor="middle" style="font-size:55.3px">50.5</text>
<text x="825" y="1394.4" text-anchor="middle" style="font-size:60.8px">time (s)</text>
<text x="1098.5" y="1314" text-anchor="middle" style="font-size:55.3px">5</text>
<text x="1420.9" y="1314" text-anchor="middle" style="font-size:55.3px">5.5</text>
<text x="1230.8" y="1394.4" text-anchor="middle" style="font-size:60.8px">time (s)</text>
<text x="1505.4" y="1310.4" text-anchor="middle" style="font-size:53px">50</text>
<text x="1827.9" y="1310.4" text-anchor="middle" style="font-size:53px">50.5</text>
<text x="1633" y="1391" text-anchor="middle" style="font-size:57.3px">time (s)</text>
<rect x="437.8" y="127.8" width="221.8" height="126.2" fill="#f0ffff" stroke="#000" stroke-width="3.5"/>
<text class="an"><tspan x="462.1" y="199" style="font-size:56.4px" textLength="34.80" lengthAdjust="spacingAndGlyphs">V</tspan><tspan x="496" y="226.4" style="font-size:42px" textLength="89.70" lengthAdjust="spacingAndGlyphs">bus1</tspan></text>
<rect x="1260" y="127.8" width="221.8" height="126.2" fill="#f0ffff" stroke="#000" stroke-width="3.5"/>
<text class="an"><tspan x="1283.1" y="199" style="font-size:56.4px" textLength="34.80" lengthAdjust="spacingAndGlyphs">V</tspan><tspan x="1317.9" y="226.4" style="font-size:42px" textLength="92.64" lengthAdjust="spacingAndGlyphs">bus2</tspan></text>
<rect x="437.8" y="505.9" width="221.8" height="126.2" fill="#f0ffff" stroke="#000" stroke-width="3.5"/>
<text class="an"><tspan x="462.1" y="576.1" style="font-size:56.4px" textLength="34.80" lengthAdjust="spacingAndGlyphs">V</tspan><tspan x="496" y="603.5" style="font-size:42px" textLength="92.64" lengthAdjust="spacingAndGlyphs">bus3</tspan></text>
<rect x="1260" y="505.9" width="221.8" height="126.2" fill="#f0ffff" stroke="#000" stroke-width="3.5"/>
<text class="an"><tspan x="1283.1" y="576.1" style="font-size:56.4px" textLength="34.80" lengthAdjust="spacingAndGlyphs">V</tspan><tspan x="1317.9" y="603.5" style="font-size:42px" textLength="92.64" lengthAdjust="spacingAndGlyphs">bus4</tspan></text>
<rect x="437.8" y="891.8" width="221.8" height="126.2" fill="#f0ffff" stroke="#000" stroke-width="3.5"/>
<text class="an"><tspan x="462.1" y="962.9" style="font-size:56.4px" textLength="34.80" lengthAdjust="spacingAndGlyphs">V</tspan><tspan x="496" y="990.3" style="font-size:42px" textLength="92.64" lengthAdjust="spacingAndGlyphs">bus5</tspan></text>
<rect x="1260" y="891.8" width="221.8" height="126.2" fill="#f0ffff" stroke="#000" stroke-width="3.5"/>
<text class="an"><tspan x="1283.1" y="962.9" style="font-size:56.4px" textLength="34.80" lengthAdjust="spacingAndGlyphs">V</tspan><tspan x="1317.9" y="990.3" style="font-size:42px" textLength="92.64" lengthAdjust="spacingAndGlyphs">bus6</tspan></text>
<g shape-rendering="crispEdges">
<path d="M679 24H1410V104H679ZM683 27V100H1407V27Z" fill="#262626" fill-rule="evenodd"/>
<rect x="683" y="27" width="724" height="73" fill="#fff"/>
<rect x="694" y="60" width="101" height="6" fill="#ff0000"/>
<rect x="1086" y="60" width="101" height="6" fill="#0000ff"/>
</g>
<text class="lg" x="804.5" y="81.1">Without BES</text>
<text class="lg" x="1196.8" y="81.1">With BES</text>
</svg></body></html>
